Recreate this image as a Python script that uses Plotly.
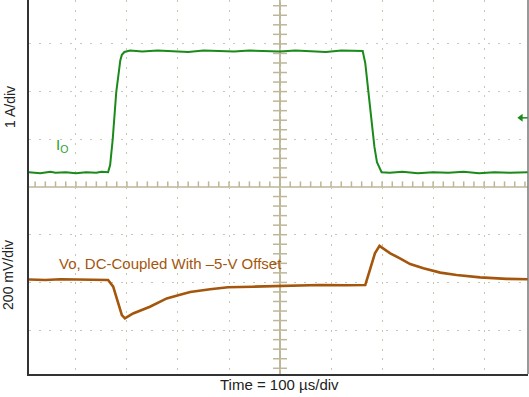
import plotly.graph_objects as go

# ---------------- data ----------------
# Output current I_O (A) vs time (µs), 1 A/div
t_io = [-492, -470, -450, -440, -420, -400, -380, -360, -350, -337, -333, -328, -321, -316, -313, -310,
        -305, -294, -270, -240, -210, -180, -150, -120, -90, -60, -30, 0, 30, 60, 90, 120, 150, 162,
        167, 173, 180, 185, 190, 195, 199, 215, 240, 270, 300, 330, 360, 390, 420, 450, 486]
i_io = [0.31, 0.29, 0.32, 0.30, 0.31, 0.29, 0.31, 0.30, 0.32, 0.31, 0.46, 0.99, 1.99, 2.45, 2.66, 2.77,
        2.83, 2.86, 2.84, 2.86, 2.85, 2.83, 2.86, 2.85, 2.84, 2.86, 2.85, 2.84, 2.86, 2.85, 2.83, 2.86, 2.85, 2.85,
        2.60, 1.97, 1.26, 0.84, 0.52, 0.40, 0.31, 0.30, 0.32, 0.29, 0.31, 0.30, 0.32, 0.29, 0.31, 0.30, 0.31]

# Output voltage deviation (mV), DC-coupled with -5 V offset, 200 mV/div
t_vo = [-492, -460, -430, -400, -370, -350, -337, -327, -317, -310, -304, -298, -288, -255, -222,
        -196, -176, -137, -102, -53, 0, 78, 130, 163, 167, 176, 186, 195, 202, 216, 235, 255, 281,
        314, 346, 392, 444, 487]
v_vo = [12, 10, 13, 11, 12, 10, 10, -18, -86, -137, -151, -144, -130, -102, -67,
        -52, -40, -29, -20, -18, -14, -11, -12, -11, -11, 52, 122, 153, 143, 122, 101, 77, 59,
        41, 31, 21, 15, 13]

# channel reference marker (A) on the current channel
ref_t = [472, 486]
ref_i = [1.45, 1.45]

# ---------------- styling ----------------
GREEN = "#1a8a1a"
BROWN = "#a4560c"
GRID = "#cbc6ae"
CROSS = "#bdb698"
FONT = "Liberation Sans, Arial, sans-serif"

X_RANGE = [-492, 486]
I_RANGE = [0, 3.92]
V_RANGE = [-384, 400]

fig = go.Figure()

# centre graticule minor ticks (decoration)
hx = [t for t in range(-480, 481, 20)]
fig.add_trace(go.Scatter(x=hx, y=[0] * len(hx), xaxis="x2", yaxis="y2", mode="markers",
                         marker=dict(symbol="line-ns", size=8, line=dict(color=CROSS, width=1.5)),
                         hoverinfo="skip", showlegend=False))
vy_top = [round(0.2 * k, 2) for k in range(1, 20)]
fig.add_trace(go.Scatter(x=[0] * len(vy_top), y=vy_top, xaxis="x2", yaxis="y2", mode="markers",
                         marker=dict(symbol="line-ew", size=10, line=dict(color=CROSS, width=1.5)),
                         hoverinfo="skip", showlegend=False))
vy_bot = [400 - 40 * k for k in range(1, 20)]
fig.add_trace(go.Scatter(x=[0] * len(vy_bot), y=vy_bot, xaxis="x", yaxis="y", mode="markers",
                         marker=dict(symbol="line-ew", size=10, line=dict(color=CROSS, width=1.5)),
                         hoverinfo="skip", showlegend=False))

# signals
fig.add_trace(go.Scatter(x=t_io, y=i_io, xaxis="x2", yaxis="y2", mode="lines",
                         line=dict(color=GREEN, width=2), showlegend=False))
fig.add_trace(go.Scatter(x=t_vo, y=v_vo, xaxis="x", yaxis="y", mode="lines",
                         line=dict(color=BROWN, width=2.6), showlegend=False))
fig.add_trace(go.Scatter(x=ref_t, y=ref_i, xaxis="x2", yaxis="y2", mode="lines",
                         line=dict(color=GREEN, width=1.5), showlegend=False))
fig.add_trace(go.Scatter(x=ref_t[:1], y=ref_i[:1], xaxis="x2", yaxis="y2", mode="markers",
                         marker=dict(symbol="triangle-left", size=7, color=GREEN), showlegend=False))

grid_common = dict(showgrid=True, gridcolor=GRID, gridwidth=1, zeroline=False,
                   showticklabels=False, ticks="", automargin=False)

fig.update_layout(
    width=529, height=397,
    margin=dict(l=29, r=1, t=0, b=23, pad=0, autoexpand=False),
    paper_bgcolor="white", plot_bgcolor="white",
    font=dict(family=FONT, size=13, color="#222222"),
    xaxis=dict(domain=[0, 1], range=X_RANGE, tick0=0, dtick=100, anchor="y",
               griddash="2px,7.5px", showline=True, linecolor="#333333", linewidth=1.5, **grid_common),
    xaxis2=dict(domain=[0, 1], range=X_RANGE, tick0=0, dtick=100, anchor="y2", matches="x",
                griddash="2px,7.5px", showline=False, **grid_common),
    yaxis=dict(domain=[0, 0.5], range=V_RANGE, tick0=0, dtick=200, anchor="x",
               griddash="2px,8.2px", showline=True, linecolor="#333333", linewidth=1.5, **grid_common),
    yaxis2=dict(domain=[0.5, 1], range=I_RANGE, tick0=0, dtick=1, anchor="x2",
                griddash="2px,8.2px", showline=True, linecolor="#333333", linewidth=1.5, **grid_common),
    shapes=[
        dict(type="line", xref="paper", yref="paper", x0=0, x1=1, y0=0.5, y1=0.5,
             line=dict(color=CROSS, width=1.5), layer="below"),
        dict(type="line", xref="x", yref="paper", x0=0, x1=0, y0=0, y1=1,
             line=dict(color=CROSS, width=2), layer="below"),
        dict(type="line", xref="paper", yref="paper", x0=1, x1=1, y0=0, y1=1,
             line=dict(color="#777777", width=1.5)),
    ],
    annotations=[
        dict(text="1 A/div", xref="paper", yref="paper", x=-0.038, y=0.714, textangle=-90,
             showarrow=False, font=dict(size=14, color="#222222"), xanchor="center", yanchor="middle"),
        dict(text="200 mV/div", xref="paper", yref="paper", x=-0.042, y=0.265, textangle=-90,
             showarrow=False, font=dict(size=14, color="#222222"), xanchor="center", yanchor="middle"),
        dict(text="Time = 100 µs/div", xref="paper", yref="paper", x=0.503, y=-0.028,
             showarrow=False, font=dict(size=15, color="#222222"), xanchor="center", yanchor="middle"),
        dict(text="I<sub>O</sub>", xref="x2", yref="y2", x=-443, y=0.88, showarrow=False,
             font=dict(size=15, color="#2e9e2e"), xanchor="left", yanchor="middle"),
        dict(text="Vo, DC-Coupled With –5-V Offset", xref="x", yref="y", x=-437, y=81,
             showarrow=False, font=dict(size=15, color=BROWN), xanchor="left", yanchor="middle"),
    ],
)

fig.write_html("out.html",
               config={"displayModeBar": False},
               post_script="document.body.style.margin='0';document.body.style.overflow='hidden';")
